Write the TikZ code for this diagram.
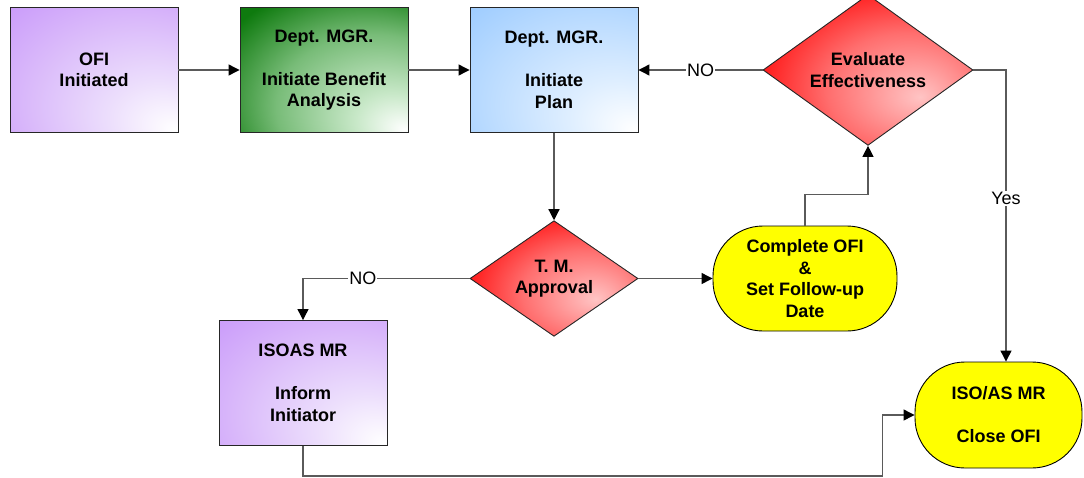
\documentclass[tikz,border=0pt]{standalone}
\usepackage{fontspec}
\setmainfont{Liberation Sans}
\usetikzlibrary{shapes.geometric,arrows.meta,calc}

% fill colours
\definecolor{purpA}{RGB}{236,222,252}
\definecolor{purpB}{RGB}{216,182,250}
\definecolor{purpC}{RGB}{198,148,250}
\definecolor{grnA}{RGB}{200,232,200}
\definecolor{grnB}{RGB}{120,188,120}
\definecolor{grnC}{RGB}{14,122,14}
\definecolor{bluA}{RGB}{222,238,255}
\definecolor{bluB}{RGB}{184,218,255}
\definecolor{bluC}{RGB}{150,200,255}
\definecolor{redA}{RGB}{255,196,196}
\definecolor{redB}{RGB}{255,110,110}
\definecolor{redC}{RGB}{255,0,0}
\definecolor{linegray}{RGB}{90,90,90}
\definecolor{termyellow}{RGB}{255,255,0}

% glows brightest towards the lower right corner
% (the filled path spans -25bp..25bp of the shading)
\pgfdeclareradialshading{purpleglow}{\pgfpoint{24bp}{-24bp}}{%
  color(0bp)=(white); color(15bp)=(purpA); color(35bp)=(purpB);
  color(52bp)=(purpC); color(75bp)=(purpC)}
\pgfdeclareradialshading{greenglow}{\pgfpoint{24bp}{-24bp}}{%
  color(0bp)=(white); color(11bp)=(grnA); color(29bp)=(grnB);
  color(45bp)=(grnC); color(75bp)=(grnC)}
\pgfdeclareradialshading{blueglow}{\pgfpoint{24bp}{-24bp}}{%
  color(0bp)=(white); color(15bp)=(bluA); color(35bp)=(bluB);
  color(52bp)=(bluC); color(75bp)=(bluC)}
\pgfdeclareradialshading{redglow}{\pgfpoint{12.5bp}{-9bp}}{%
  color(0bp)=(redA); color(19bp)=(redB); color(37bp)=(redC);
  color(75bp)=(redC)}

\begin{document}
\begin{tikzpicture}[x=1pt,y=-1pt,
  txt/.style={font=\bfseries\fontsize{18}{21.5}\selectfont, align=center, text=black},
  procbox/.style={txt, rectangle, draw=black!85, line width=0.9pt,
    minimum width=168pt, minimum height=125pt, inner sep=0pt},
  decision/.style={txt, diamond, draw=black!85, line width=0.9pt,
    shading=redglow, inner sep=0pt},
  terminal/.style={txt, rectangle, rounded corners=50pt, draw=black,
    line width=0.9pt, fill=termyellow, inner sep=0pt},
  flow/.style={draw=linegray, line width=1.2pt,
    -{Triangle[length=11pt,width=11pt,color=black]}},
  lbl/.style={font=\fontsize{18}{20}\selectfont, fill=white, inner sep=1pt, text=black}]

\useasboundingbox (0,0) rectangle (1084,477);

% process boxes
\node[procbox, shading=purpleglow] (ofi) at (94,70) {OFI\\Initiated};
\node[procbox, shading=greenglow] (benefit) at (324,70)
  {Dept. MGR.\\[21.5pt]Initiate Benefit\\Analysis};
\node[procbox, shading=blueglow] (plan) at (554,70)
  {Dept. MGR.\\[21.5pt]Initiate\\Plan};
\node[procbox, shading=purpleglow] (inform) at (303,383)
  {ISOAS MR\\[21.5pt]Inform\\Initiator};

% decisions
\node[decision, minimum width=210pt, minimum height=130pt] (eval) at (868,70)
  {Evaluate\\Effectiveness};
\node[decision, minimum width=168pt, minimum height=104pt] (tm) at (554,278.5)
  {T. M.\\Approval};

% terminals
\node[terminal, minimum width=184pt, minimum height=105pt] (complete) at (805,278.5)
  {Complete OFI\\\&\\Set Follow-up\\Date};
\node[terminal, minimum width=167pt, minimum height=106pt] (close) at (998.5,415)
  {ISO/AS MR\\[21.5pt]Close OFI};

% connectors
\draw[flow] (ofi.east) -- (benefit.west);
\draw[flow] (benefit.east) -- (plan.west);
\draw[flow] (eval.west) -- node[lbl] {NO} (plan.east);
\draw[flow] (plan.south) -- (tm.north);
\draw[flow] (tm.west) -| node[lbl, pos=0.32] {NO} (inform.north);
\draw[flow] (tm.east) -- (complete.west);
\draw[flow] (complete.north) -- ++(0,-31) -| (eval.south);
\draw[flow] (eval.east) -| node[lbl, pos=0.72] {Yes} ([xshift=7.5pt]close.north);
\draw[flow] (inform.south) -- ++(0,30) -| ([xshift=-32pt]close.west) -- (close.west);

\end{tikzpicture}
\end{document}
